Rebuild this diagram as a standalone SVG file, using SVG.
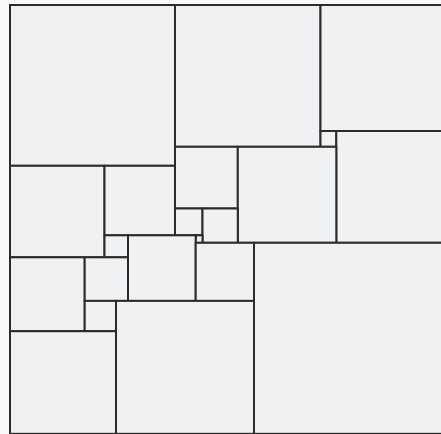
<svg xmlns="http://www.w3.org/2000/svg" width="441" height="434" viewBox="0 0 441 434">
<style>
.sq{fill:#f0f1f3;stroke:#2b2b2b;stroke-width:2}
</style>
<rect x="0" y="0" width="441" height="434" fill="#fafafa"/>
<g id="squares">
<g id="s1"><rect class="sq" x="10" y="5" width="165" height="160.8"/></g>
<g id="s2"><rect class="sq" x="175" y="5" width="145.5" height="141.8"/></g>
<g id="s3"><rect class="sq" x="320.5" y="5" width="131.5" height="126"/></g>
<g id="s4"><rect class="sq" x="320.5" y="131" width="15.8" height="15.8"/></g>
<g id="s5"><rect class="sq" x="336.3" y="131" width="115.7" height="111.8"/></g>
<g id="s6"><rect class="sq" x="175" y="146.8" width="62.8" height="61.7"/></g>
<g id="s7"><rect class="sq" x="237.8" y="146.8" width="98.5" height="96"/></g>
<g id="s8"><rect class="sq" x="10" y="165.8" width="94.5" height="91.5"/></g>
<g id="s9"><rect class="sq" x="104.5" y="165.8" width="70.5" height="69.5"/></g>
<g id="s10"><rect class="sq" x="175" y="208.5" width="27.5" height="26.8"/></g>
<g id="s11"><rect class="sq" x="202.5" y="208.5" width="35.3" height="34.3"/></g>
<g id="s12"><rect class="sq" x="195.7" y="235.3" width="6.8" height="7.5"/></g>
<g id="s13"><rect class="sq" x="104.5" y="235.3" width="23.5" height="22"/></g>
<g id="s14"><rect class="sq" x="128" y="235.3" width="67.7" height="65.6"/></g>
<g id="s15"><rect class="sq" x="195.7" y="242.8" width="58.3" height="58.1"/></g>
<g id="s16"><rect class="sq" x="254" y="242.8" width="198" height="191"/></g>
<g id="s17"><rect class="sq" x="10" y="257.3" width="74.7" height="73.9"/></g>
<g id="s18"><rect class="sq" x="84.7" y="257.3" width="43.3" height="43.6"/></g>
<g id="s19"><rect class="sq" x="84.7" y="300.9" width="31.3" height="30.3"/></g>
<g id="s20"><rect class="sq" x="116" y="300.9" width="138" height="132.9"/></g>
<g id="s21"><rect class="sq" x="10" y="331.2" width="106" height="102.6"/></g>
</g>
<g id="connectors"></g>
</svg>
